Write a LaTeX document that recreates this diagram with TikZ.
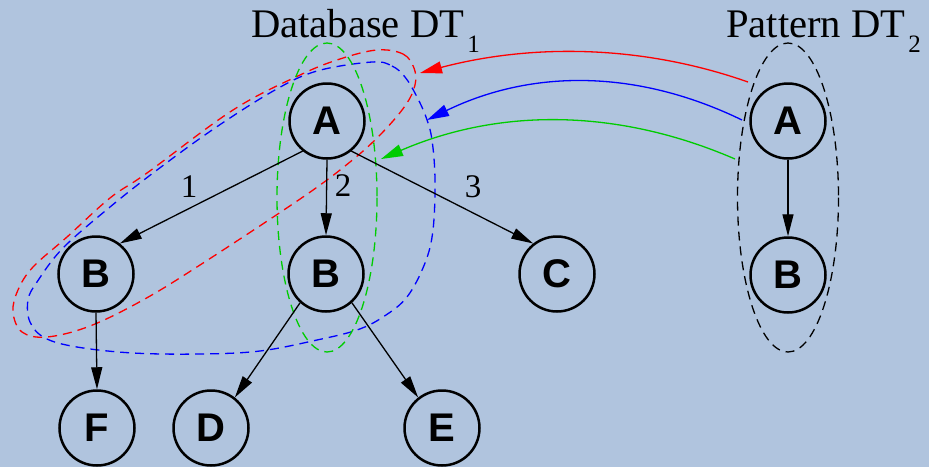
\documentclass[tikz,border=0pt]{standalone}
\usepackage{fontspec}
\setmainfont{Liberation Serif}
\newfontfamily\nodefont{Liberation Sans}
\usetikzlibrary{arrows.meta}
\definecolor{bgblue}{RGB}{176,196,222}
\definecolor{dgreen}{RGB}{0,204,0}
\begin{document}
\begin{tikzpicture}[x=1pt,y=-1pt,
  vtx/.style={circle,draw,line width=2.5pt,minimum size=75pt,inner sep=0pt,
    font=\nodefont\bfseries\fontsize{40}{40}\selectfont},
  edge/.style={line width=1.3pt,-{Triangle[length=22pt,width=11pt]}},
  carrow/.style={line width=1.3pt,-{Triangle[length=22pt,width=12pt]}},
  grp/.style={dash pattern=on 9pt off 6pt,line width=1.3pt},
  lbl/.style={font=\fontsize{33}{33}\selectfont,inner sep=0pt},
  ttl/.style={font=\fontsize{40.6}{40.6}\selectfont,inner sep=0pt,anchor=base west}]
\path[use as bounding box,fill=bgblue] (0,0) rectangle (929,467);

% group outlines
\draw[grp,red] plot[smooth cycle,tension=0.6] coordinates {
  (377,50) (403,54) (414,68) (415,85) (405,106) (380,135) (350,162) (303,197)
  (200,265) (143,300) (90,326) (47,337) (22,332) (13,312) (18,290) (33,267)
  (67,237) (110,198) (147,173) (233,110) (300,75) (340,59)};
\draw[grp,blue] plot[smooth cycle,tension=0.6] coordinates {
  (372,62) (392,66) (405,77) (416,95) (426,117) (432,140) (435,180) (433,230)
  (425,263) (407,297) (383,317) (357,330) (317,340) (260,351) (200,354)
  (133,353) (77,347) (45,338) (30,322) (28,300) (37,282) (63,248) (110,207)
  (157,170) (215,128) (275,90) (317,71)};
\draw[grp,dgreen] (327,197.5) ellipse [x radius=50, y radius=154.5];
\draw[grp,black] (788,197.5) ellipse [x radius=50.5, y radius=154.5];

% titles
\node[ttl] (t1) at (251,37) {Database DT\kern3pt\raisebox{-15pt}{\fontsize{25}{25}\selectfont 1}};
\node[ttl] (t2) at (726,37) {Pattern DT\kern3pt\raisebox{-15pt}{\fontsize{25}{25}\selectfont 2}};

% database tree
\node[vtx] (A)  at (327,121) {A};
\node[vtx] (B1) at (96,274)  {B};
\node[vtx] (B2) at (326,274) {B};
\node[vtx] (C)  at (557,274) {C};
\node[vtx] (F)  at (97,428)  {F};
\node[vtx] (D)  at (211,428) {D};
\node[vtx] (E)  at (442,428) {E};

% pattern tree
\node[vtx] (PA) at (788,121) {A};
\node[vtx] (PB) at (788,275) {B};

\draw[edge] (A.231) -- (B1.52);
\draw[edge] (A.south) -- (B2.north);
\draw[edge] (A.309) -- (C.128);
\draw[edge] (B1.south) -- (F.north);
\draw[edge] (B2.228) -- (D.52);
\draw[edge] (B2.312) -- (E.128);
\draw[edge] (PA.south) -- (PB.north);

\node[lbl] (l1) at (189,187) {1};
\node[lbl] (l2) at (343,186) {2};
\node[lbl] (l3) at (473,187) {3};

% mapping arrows
\coordinate (rs) at (748,82);  \coordinate (re) at (420,73);
\coordinate (bs) at (742,120); \coordinate (be) at (427,120);
\coordinate (gs) at (735,159); \coordinate (ge) at (381,159);
\draw[carrow,red] (rs) .. controls (640,44) and (530,44) .. (re);
\draw[carrow,blue] (bs) .. controls (637,69) and (532,69) .. (be);
\draw[carrow,dgreen] (gs) .. controls (617,108) and (499,108) .. (ge);
\end{tikzpicture}
\end{document}
